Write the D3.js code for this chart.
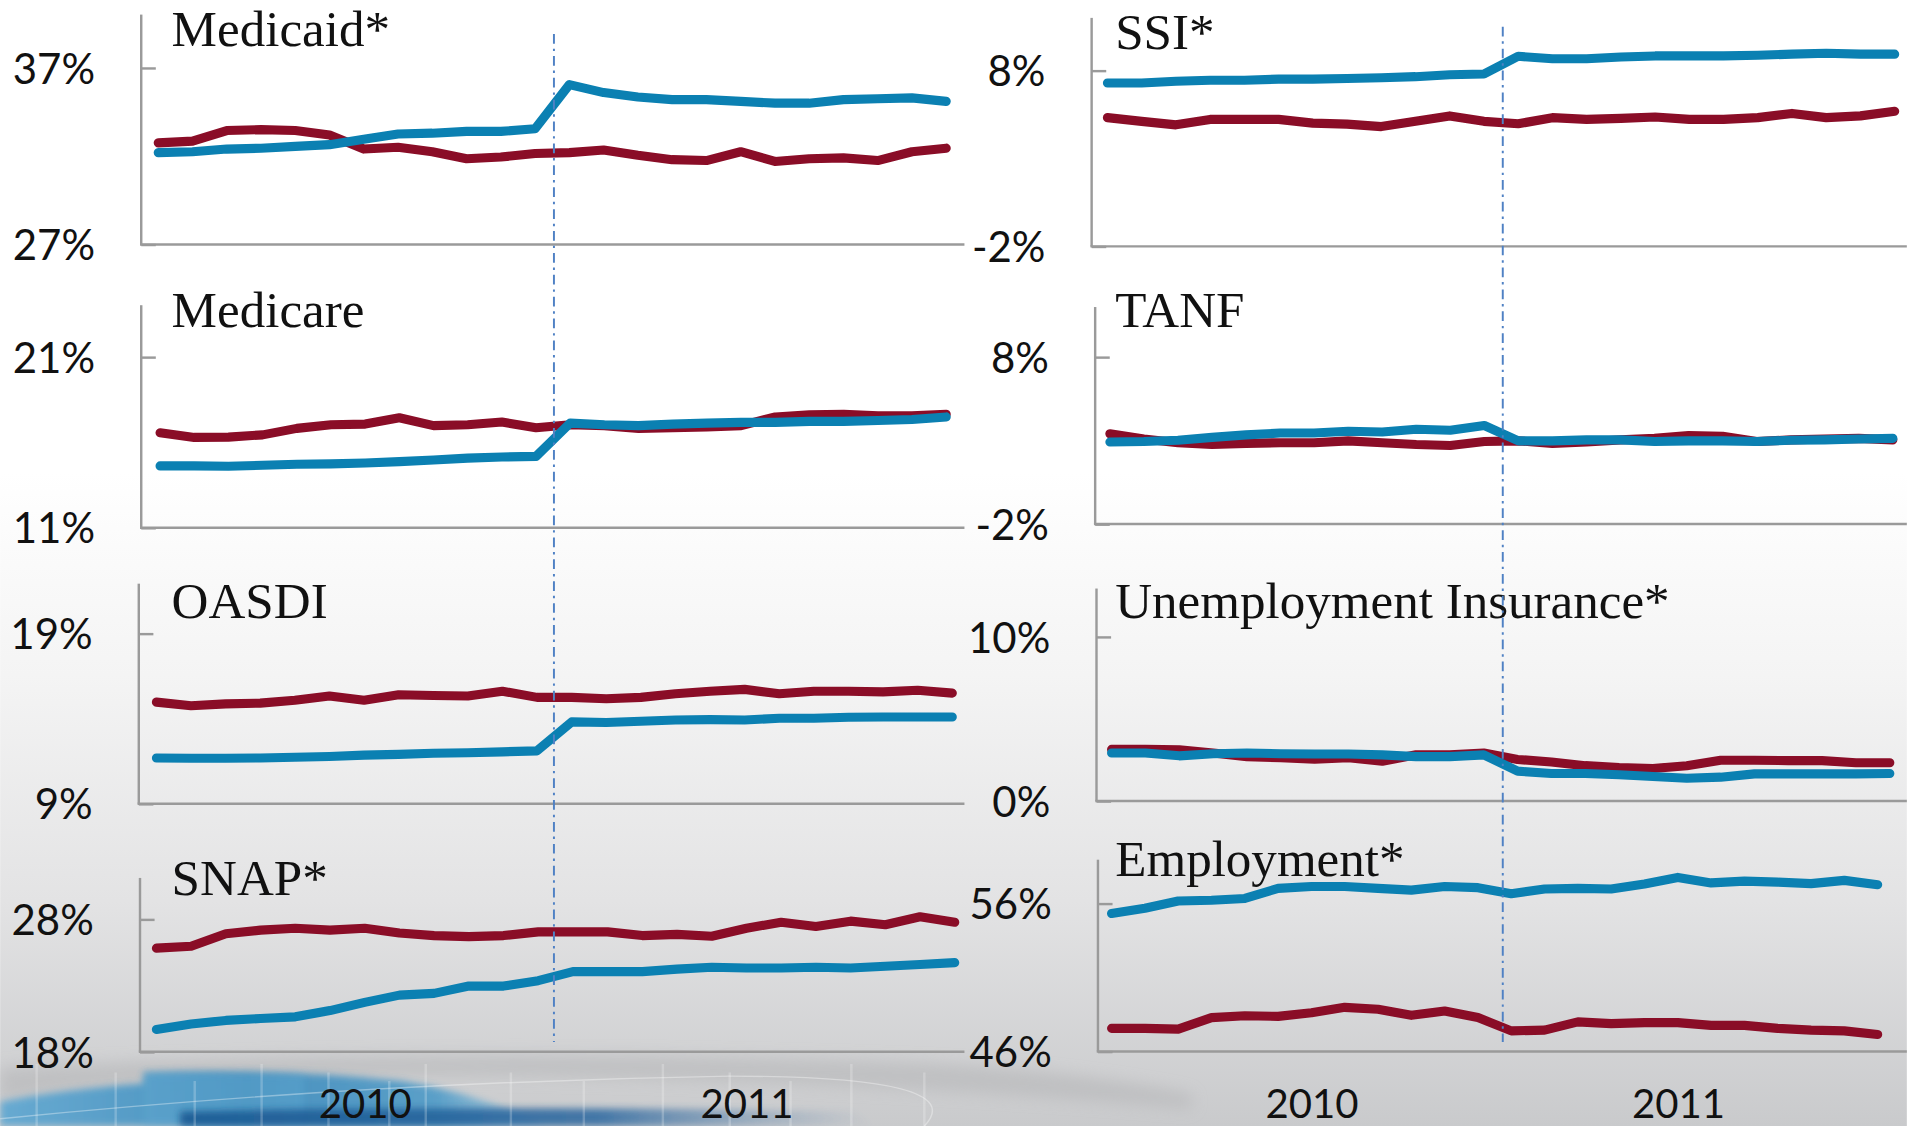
<!DOCTYPE html>
<html>
<head>
<meta charset="utf-8">
<script src="https://cdn.jsdelivr.net/npm/d3@7/dist/d3.min.js"></script>
<style>
  html, body { margin: 0; padding: 0; background: #fff; overflow: hidden; }
  svg { display: block; }
</style>
</head>
<body>
<svg id="chart" width="1907" height="1126" viewBox="0 0 1568 926"></svg>
<script>
// ---------------- DATA ----------------
const months = ["Jul 2009","Aug 2009","Sep 2009","Oct 2009","Nov 2009","Dec 2009",
  "Jan 2010","Feb 2010","Mar 2010","Apr 2010","May 2010","Jun 2010",
  "Jul 2010","Aug 2010","Sep 2010","Oct 2010","Nov 2010","Dec 2010",
  "Jan 2011","Feb 2011","Mar 2011","Apr 2011","May 2011","Jun 2011"];

const yearLabels = ["2010", "2011"];
const yearLabelIndex = [6, 17];
const breakIndex = 11.55;

const panelTitles = ["Medicaid*", "Medicare", "OASDI", "SNAP*",
                     "SSI*", "TANF", "Unemployment Insurance*", "Employment*"];

const medicaidTicks = [27, 37];
const medicaidBlue = [32.2, 32.25, 32.4, 32.45, 32.55, 32.65, 32.95, 33.25, 33.3, 33.4, 33.4, 33.55, 36.05, 35.6, 35.35, 35.2, 35.2, 35.1, 35.0, 35.0, 35.2, 35.25, 35.3, 35.1];
const medicaidRed  = [32.75, 32.85, 33.45, 33.5, 33.45, 33.2, 32.4, 32.5, 32.25, 31.85, 31.95, 32.15, 32.2, 32.35, 32.05, 31.8, 31.75, 32.25, 31.7, 31.85, 31.9, 31.75, 32.25, 32.45];

const medicareTicks = [11, 21];
const medicareBlue = [14.62, 14.62, 14.6, 14.66, 14.72, 14.74, 14.79, 14.87, 14.97, 15.08, 15.14, 15.18, 17.13, 17.03, 16.98, 17.07, 17.13, 17.17, 17.17, 17.23, 17.23, 17.28, 17.34, 17.49];
const medicareRed  = [16.56, 16.29, 16.31, 16.44, 16.82, 17.03, 17.07, 17.44, 16.98, 17.03, 17.19, 16.86, 17.03, 16.98, 16.82, 16.86, 16.9, 16.98, 17.49, 17.61, 17.65, 17.55, 17.55, 17.65];

const oasdiTicks = [9, 19];
const oasdiBlue = [11.69, 11.67, 11.67, 11.69, 11.73, 11.78, 11.86, 11.9, 11.97, 12.0, 12.05, 12.11, 13.81, 13.77, 13.85, 13.92, 13.94, 13.92, 14.02, 14.02, 14.08, 14.1, 14.1, 14.1];
const oasdiRed  = [14.97, 14.76, 14.87, 14.91, 15.08, 15.33, 15.08, 15.4, 15.36, 15.33, 15.61, 15.25, 15.25, 15.17, 15.25, 15.46, 15.61, 15.72, 15.46, 15.61, 15.61, 15.57, 15.67, 15.5];

const snapTicks = [18, 28];
const snapBlue = [19.69, 20.1, 20.37, 20.51, 20.64, 21.11, 21.73, 22.28, 22.41, 22.96, 22.96, 23.37, 24.05, 24.05, 24.05, 24.24, 24.38, 24.32, 24.32, 24.38, 24.32, 24.46, 24.59, 24.73];
const snapRed  = [25.82, 25.96, 26.91, 27.18, 27.32, 27.18, 27.32, 26.96, 26.77, 26.69, 26.77, 27.05, 27.05, 27.05, 26.77, 26.86, 26.72, 27.32, 27.78, 27.46, 27.86, 27.59, 28.19, 27.78];

const ssiTicks = [-2, 8];
const ssiBlue = [7.29, 7.29, 7.39, 7.45, 7.45, 7.51, 7.51, 7.55, 7.59, 7.65, 7.76, 7.8, 8.81, 8.67, 8.67, 8.77, 8.83, 8.83, 8.83, 8.87, 8.93, 8.98, 8.93, 8.93];
const ssiRed  = [5.32, 5.11, 4.91, 5.22, 5.22, 5.22, 5.01, 4.95, 4.81, 5.11, 5.42, 5.11, 4.97, 5.32, 5.22, 5.28, 5.36, 5.22, 5.22, 5.32, 5.56, 5.32, 5.42, 5.68];

const tanfTicks = [-2, 8];
const tanfBlue = [2.91, 2.94, 3.02, 3.19, 3.34, 3.45, 3.45, 3.56, 3.51, 3.68, 3.62, 3.9, 2.98, 2.98, 3.04, 3.04, 2.94, 2.98, 2.98, 2.94, 3.02, 3.04, 3.09, 3.13];
const tanfRed  = [3.41, 3.09, 2.87, 2.76, 2.83, 2.87, 2.87, 2.98, 2.87, 2.76, 2.7, 2.94, 2.98, 2.83, 2.91, 3.04, 3.13, 3.3, 3.26, 2.94, 3.04, 3.09, 3.13, 3.04];

const uiTicks = [0, 10];
const uiBlue = [2.92, 2.92, 2.75, 2.88, 2.92, 2.88, 2.86, 2.86, 2.81, 2.7, 2.7, 2.81, 1.82, 1.67, 1.67, 1.6, 1.49, 1.38, 1.45, 1.65, 1.65, 1.65, 1.65, 1.67];
const uiRed  = [3.14, 3.14, 3.12, 2.92, 2.7, 2.64, 2.55, 2.64, 2.42, 2.81, 2.81, 2.92, 2.53, 2.37, 2.15, 2.04, 1.98, 2.15, 2.48, 2.48, 2.46, 2.46, 2.33, 2.33];

const empTicks = [46, 56];
const empBlue = [55.32, 55.68, 56.17, 56.22, 56.34, 57.02, 57.15, 57.15, 57.02, 56.9, 57.15, 57.07, 56.66, 56.98, 57.02, 56.98, 57.32, 57.76, 57.39, 57.51, 57.44, 57.34, 57.56, 57.27];
const empRed  = [47.56, 47.56, 47.51, 48.29, 48.41, 48.37, 48.61, 48.98, 48.85, 48.44, 48.73, 48.29, 47.39, 47.44, 48.0, 47.88, 47.95, 47.95, 47.76, 47.76, 47.56, 47.44, 47.39, 47.15];

// ---------------- LAYOUT ----------------
const BLUE = "#0b80b2", RED = "#8a0d27", AXIS = "#9a9a9a";
const colEnd = [793, 1568];
const layout = [
  {col:0, axisX:116,   top:12,    tickY:55.8,  baseY:201,   x0:130,   x1:778,   titleY:37.6},
  {col:0, axisX:116,   top:251,   tickY:293.6, baseY:434,   x0:131.5, x1:778,   titleY:268.7},
  {col:0, axisX:114,   top:480,   tickY:521,   baseY:661,   x0:128.5, x1:783,   titleY:508},
  {col:0, axisX:115,   top:722,   tickY:756,   baseY:865,   x0:128.5, x1:785,   titleY:736},
  {col:1, axisX:897.6, top:14.7,  tickY:58,    baseY:202.6, x0:910.6, x1:1558,  titleY:40.5},
  {col:1, axisX:900.5, top:252.5, tickY:293.6, baseY:431,   x0:912.6, x1:1556.5,titleY:268.7},
  {col:1, axisX:901.6, top:484,   tickY:523.7, baseY:658.7, x0:914,   x1:1554,  titleY:508},
  {col:1, axisX:902.8, top:707,   tickY:743,   baseY:864.7, x0:914,   x1:1544,  titleY:720}
];
const panelData = [
  [medicaidTicks, medicaidBlue, medicaidRed],
  [medicareTicks, medicareBlue, medicareRed],
  [oasdiTicks, oasdiBlue, oasdiRed],
  [snapTicks, snapBlue, snapRed],
  [ssiTicks, ssiBlue, ssiRed],
  [tanfTicks, tanfBlue, tanfRed],
  [uiTicks, uiBlue, uiRed],
  [empTicks, empBlue, empRed]
];

const svg = d3.select("#chart");
const defs = svg.append("defs");

// ---------------- BACKGROUND ----------------
const bg = defs.append("linearGradient").attr("id","bg").attr("x1",0).attr("y1",0).attr("x2",0).attr("y2",1);
[[0,"#ffffff"],[0.42,"#ffffff"],[0.6,"#f4f4f4"],[0.8,"#e3e3e4"],[1,"#c9cacc"]]
  .forEach(([o,c]) => bg.append("stop").attr("offset",o).attr("stop-color",c));
svg.append("rect").attr("width",1568).attr("height",926).attr("fill","url(#bg)");

const blur = defs.append("filter").attr("id","blur").attr("x","-20%").attr("y","-50%").attr("width","140%").attr("height","200%");
blur.append("feGaussianBlur").attr("stdDeviation",3);
const blur2 = defs.append("filter").attr("id","blur2").attr("x","-20%").attr("y","-80%").attr("width","140%").attr("height","260%");
blur2.append("feGaussianBlur").attr("stdDeviation",6);

const bluG = defs.append("linearGradient").attr("id","bluG").attr("x1",0).attr("y1",0).attr("x2",1).attr("y2",0);
bluG.append("stop").attr("offset",0).attr("stop-color","#5da7d2");
bluG.append("stop").attr("offset",0.45).attr("stop-color","#3b8bbd");
bluG.append("stop").attr("offset",0.8).attr("stop-color","#4f9bc8");
bluG.append("stop").attr("offset",1).attr("stop-color","#8cc3df").attr("stop-opacity",0.4);

const darkG = defs.append("linearGradient").attr("id","darkG").attr("x1",0).attr("y1",0).attr("x2",1).attr("y2",0);
darkG.append("stop").attr("offset",0).attr("stop-color","#16558f");
darkG.append("stop").attr("offset",0.6).attr("stop-color","#2a67a0");
darkG.append("stop").attr("offset",1).attr("stop-color","#6f8fb0").attr("stop-opacity",0);

const deco = svg.append("g");
// gray swoosh band
deco.append("path").attr("d","M0,878 Q380,860 760,874 Q880,880 980,900 L980,912 Q700,888 380,885 Q150,885 0,905 Z")
  .attr("fill","#b3b4b6").attr("opacity",0.55).attr("filter","url(#blur2)");
// light-blue shape
deco.append("path").attr("d","M0,906 Q50,896 118,891 L118,882 Q230,878 330,889 Q390,898 450,926 L0,926 Z")
  .attr("fill","url(#bluG)").attr("opacity",0.9).attr("filter","url(#blur)");
// lighter rectangle overlay
deco.append("path").attr("d","M118,882 L250,884 L250,926 L118,926 Z")
  .attr("fill","#62abd4").attr("opacity",0.35).attr("filter","url(#blur)");
// dark-blue strip at the very bottom
deco.append("path").attr("d","M148,914 Q400,909 700,914 L720,926 L148,926 Z")
  .attr("fill","url(#darkG)").attr("opacity",0.85).attr("filter","url(#blur)");
// faint white bars
[30, 95, 160, 215, 270, 320, 350, 420, 480, 545, 600, 650, 700, 760].forEach((x, i) => {
  deco.append("line").attr("x1",x).attr("x2",x).attr("y1",875 + (i%3)*7).attr("y2",926)
    .attr("stroke","#ffffff").attr("stroke-width",2).attr("opacity",0.22);
});
// faint light arc lines
deco.append("path").attr("d","M0,920 Q300,890 600,885 Q800,885 760,926")
  .attr("fill","none").attr("stroke","#ffffff").attr("stroke-width",1.2).attr("opacity",0.35);

// ---------------- PANELS ----------------
const lineGen = (x, y) => d3.line().x((d,i) => x(i)).y(d => y(d));
const colScales = [null, null];

layout.forEach((L, p) => {
  const [ticks, blue, red] = panelData[p];
  const x = d3.scaleLinear().domain([0, months.length - 1]).range([L.x0, L.x1]);
  const y = d3.scaleLinear().domain(ticks).range([L.baseY, L.tickY]);
  if (!colScales[L.col]) colScales[L.col] = x;
  const g = svg.append("g");

  // vertical axis line and baseline
  g.append("line").attr("x1",L.axisX).attr("x2",L.axisX).attr("y1",L.top).attr("y2",y(ticks[0]))
    .attr("stroke",AXIS).attr("stroke-width",2);
  g.append("line").attr("x1",L.axisX - 1).attr("x2",colEnd[L.col]).attr("y1",y(ticks[0])).attr("y2",y(ticks[0]))
    .attr("stroke",AXIS).attr("stroke-width",2);

  // ticks & labels with d3 axis
  const ax = d3.axisLeft(y).tickValues(ticks).tickFormat(d => d + "%").tickSize(-12).tickSizeOuter(0).tickPadding(38);
  const axG = g.append("g").attr("transform", `translate(${L.axisX},0)`).call(ax);
  axG.select(".domain").remove();
  axG.selectAll(".tick line").attr("stroke",AXIS).attr("stroke-width",2);
  axG.selectAll(".tick text").attr("font-family","Lato, 'Liberation Sans', sans-serif")
    .attr("font-size",34.5).attr("fill","#111").attr("dy","0.36em");

  // title
  g.append("text").attr("x", L.col === 0 ? 141 : 917).attr("y", L.titleY)
    .attr("font-family","'Liberation Serif', 'DejaVu Serif', serif").attr("font-size",42)
    .attr("fill","#111").text(panelTitles[p]);

  // series
  g.append("path").datum(red).attr("d", lineGen(x,y)).attr("fill","none")
    .attr("stroke",RED).attr("stroke-width",7.5).attr("stroke-linejoin","round").attr("stroke-linecap","round");
  g.append("path").datum(blue).attr("d", lineGen(x,y)).attr("fill","none")
    .attr("stroke",BLUE).attr("stroke-width",7.5).attr("stroke-linejoin","round").attr("stroke-linecap","round");

  // year labels on bottom panels
  if (p === 3 || p === 7) {
    const xa = d3.axisBottom(x).tickValues(yearLabelIndex).tickFormat((d,i) => yearLabels[i]).tickSize(0).tickPadding(0);
    const xg = g.append("g").attr("transform","translate(0,896)").call(xa);
    xg.select(".domain").remove();
    xg.selectAll(".tick text").attr("font-family","Lato, 'Liberation Sans', sans-serif")
      .attr("font-size",33).attr("fill","#111").attr("dy","0.71em");
  }
});

// break markers (dash-dot vertical lines)
[[0, 28, 857], [1, 22, 857]].forEach(([c, y1, y2]) => {
  const bx = colScales[c](breakIndex);
  svg.append("line").attr("x1",bx).attr("x2",bx).attr("y1",y1).attr("y2",y2)
    .attr("stroke","#4f81c4").attr("stroke-width",1.6).attr("stroke-dasharray","8,4,2,4");
});
</script>
</body>
</html>
